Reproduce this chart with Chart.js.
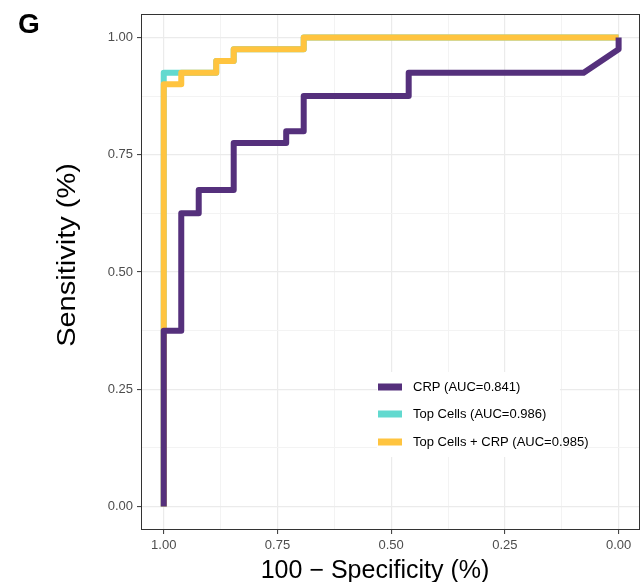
<!DOCTYPE html>
<html>
<head>
<meta charset="utf-8">
<script src="https://cdn.jsdelivr.net/npm/chart.js@4/dist/chart.umd.min.js"></script>
<style>
html,body{margin:0;padding:0;background:#fff;overflow:hidden;}
#wrap{position:relative;width:641px;height:582px;}
</style>
</head>
<body>
<div id="wrap"><canvas id="c" width="641" height="582"></canvas></div>
<script>
// ---- data (specificity on x, sensitivity on y) ----
const crpSpec  = [1, 1, 0.9615, 0.9615, 0.9231, 0.9231, 0.8462, 0.8462, 0.7308, 0.7308, 0.6923, 0.6923, 0.4615, 0.4615, 0.0769, 0, 0];
const crpSens  = [0, 0.375, 0.375, 0.625, 0.625, 0.675, 0.675, 0.775, 0.775, 0.8, 0.8, 0.875, 0.875, 0.925, 0.925, 0.975, 1];
const cellSpec = [1, 1, 0.9615, 0.8846, 0.8846, 0.8462, 0.8462, 0.6923, 0.6923, 0];
const cellSens = [0, 0.925, 0.925, 0.925, 0.95, 0.95, 0.975, 0.975, 1, 1];
const bothSpec = [1, 1, 0.9615, 0.9615, 0.8846, 0.8846, 0.8462, 0.8462, 0.6923, 0.6923, 0];
const bothSens = [0, 0.9, 0.9, 0.925, 0.925, 0.95, 0.95, 0.975, 0.975, 1, 1];
const seriesNames = ["CRP (AUC=0.841)", "Top Cells (AUC=0.986)", "Top Cells + CRP (AUC=0.985)"];
const seriesColors = ["#55307C", "#62D9CF", "#FFC43F"];
const tickValues = [0, 0.125, 0.25, 0.375, 0.5, 0.625, 0.75, 0.875, 1];
const xTitle = "100 \u2212 Specificity (%)";
const yTitle = "Sensitivity (%)";
const panelTag = "G";

const toPts = (xs, ys) => xs.map((x, i) => ({x: x, y: ys[i]}));
const isMajor = v => Math.abs(v * 4 - Math.round(v * 4)) < 1e-6;

function mkDs(i, xs, ys, order) {
  return {
    label: seriesNames[i], data: toPts(xs, ys),
    borderColor: seriesColors[i], backgroundColor: seriesColors[i],
    borderWidth: 6, pointRadius: 0, tension: 0, fill: false,
    borderCapStyle: 'butt', borderJoinStyle: 'round', order: order
  };
}

function scaleOpts(min, max, reverse, isX) {
  return {
    type: 'linear', min: min, max: max, reverse: reverse,
    afterBuildTicks: s => { s.ticks = tickValues.map(v => ({value: v})); },
    afterFit: s => { if (isX) s.height = 52; else s.width = 141; },
    ticks: {
      autoSkip: false, maxRotation: 0, minRotation: 0,
      color: '#4D4D4D', padding: 4,
      font: {family: "'Liberation Sans', Arial, sans-serif", size: 13},
      callback: v => isMajor(v) ? Number(v).toFixed(2) : ''
    },
    grid: {
      drawTicks: true, tickLength: 4,
      color: c => (c.tick && isMajor(c.tick.value)) ? '#EBEBEB' : '#F3F3F3',
      lineWidth: c => (c.tick && isMajor(c.tick.value)) ? 1.2 : 1,
      tickColor: c => (c.tick && isMajor(c.tick.value)) ? '#333333' : 'rgba(0,0,0,0)',
      tickWidth: 1
    },
    border: {display: false}
  };
}

const decor = {
  id: 'decor',
  afterDraw(chart) {
    const ctx = chart.ctx, a = chart.chartArea;
    ctx.save();
    // legend
    const lx = 377, ly = 372, lw = 183, lh = 85;
    ctx.fillStyle = '#fff';
    ctx.fillRect(lx, ly, lw, lh);
    const rows = [387, 414, 442];
    ctx.font = "13px 'Liberation Sans', Arial, sans-serif";
    ctx.textBaseline = 'middle';
    ctx.textAlign = 'left';
    for (let i = 0; i < 3; i++) {
      ctx.fillStyle = seriesColors[i];
      ctx.fillRect(378, rows[i] - 3.5, 24, 7);
      ctx.fillStyle = '#000';
      ctx.fillText(seriesNames[i], 413, rows[i]);
    }
    // panel border
    ctx.strokeStyle = '#333333';
    ctx.lineWidth = 1;
    ctx.strokeRect(Math.round(a.left) + 0.5, Math.round(a.top) + 0.5, Math.round(a.right - a.left) - 1, Math.round(a.bottom - a.top) - 1);
    // titles
    ctx.fillStyle = '#000';
    ctx.font = "25px 'Liberation Sans', Arial, sans-serif";
    ctx.textAlign = 'center';
    ctx.textBaseline = 'alphabetic';
    ctx.fillText(xTitle, 375, 578);
    ctx.save();
    ctx.translate(75, 255);
    ctx.rotate(-Math.PI / 2);
    ctx.scale(1.16, 1);
    ctx.fillText(yTitle, 0, 0);
    ctx.restore();
    ctx.font = "bold 28px 'Liberation Sans', Arial, sans-serif";
    ctx.textAlign = 'left';
    ctx.fillText(panelTag, 18, 33);
    ctx.restore();
  }
};

new Chart(document.getElementById('c'), {
  type: 'line',
  data: {
    datasets: [
      mkDs(0, crpSpec, crpSens, 0),
      mkDs(1, cellSpec, cellSens, 2),
      mkDs(2, bothSpec, bothSens, 1)
    ]
  },
  options: {
    responsive: false, animation: false,
    layout: {padding: {top: 14, right: 1, left: 0, bottom: 0}},
    plugins: {legend: {display: false}, tooltip: {enabled: false}},
    scales: {
      x: scaleOpts(-0.047, 1.05, true, true),
      y: scaleOpts(-0.05, 1.05, false, false)
    }
  },
  plugins: [decor]
});
</script>
</body>
</html>
